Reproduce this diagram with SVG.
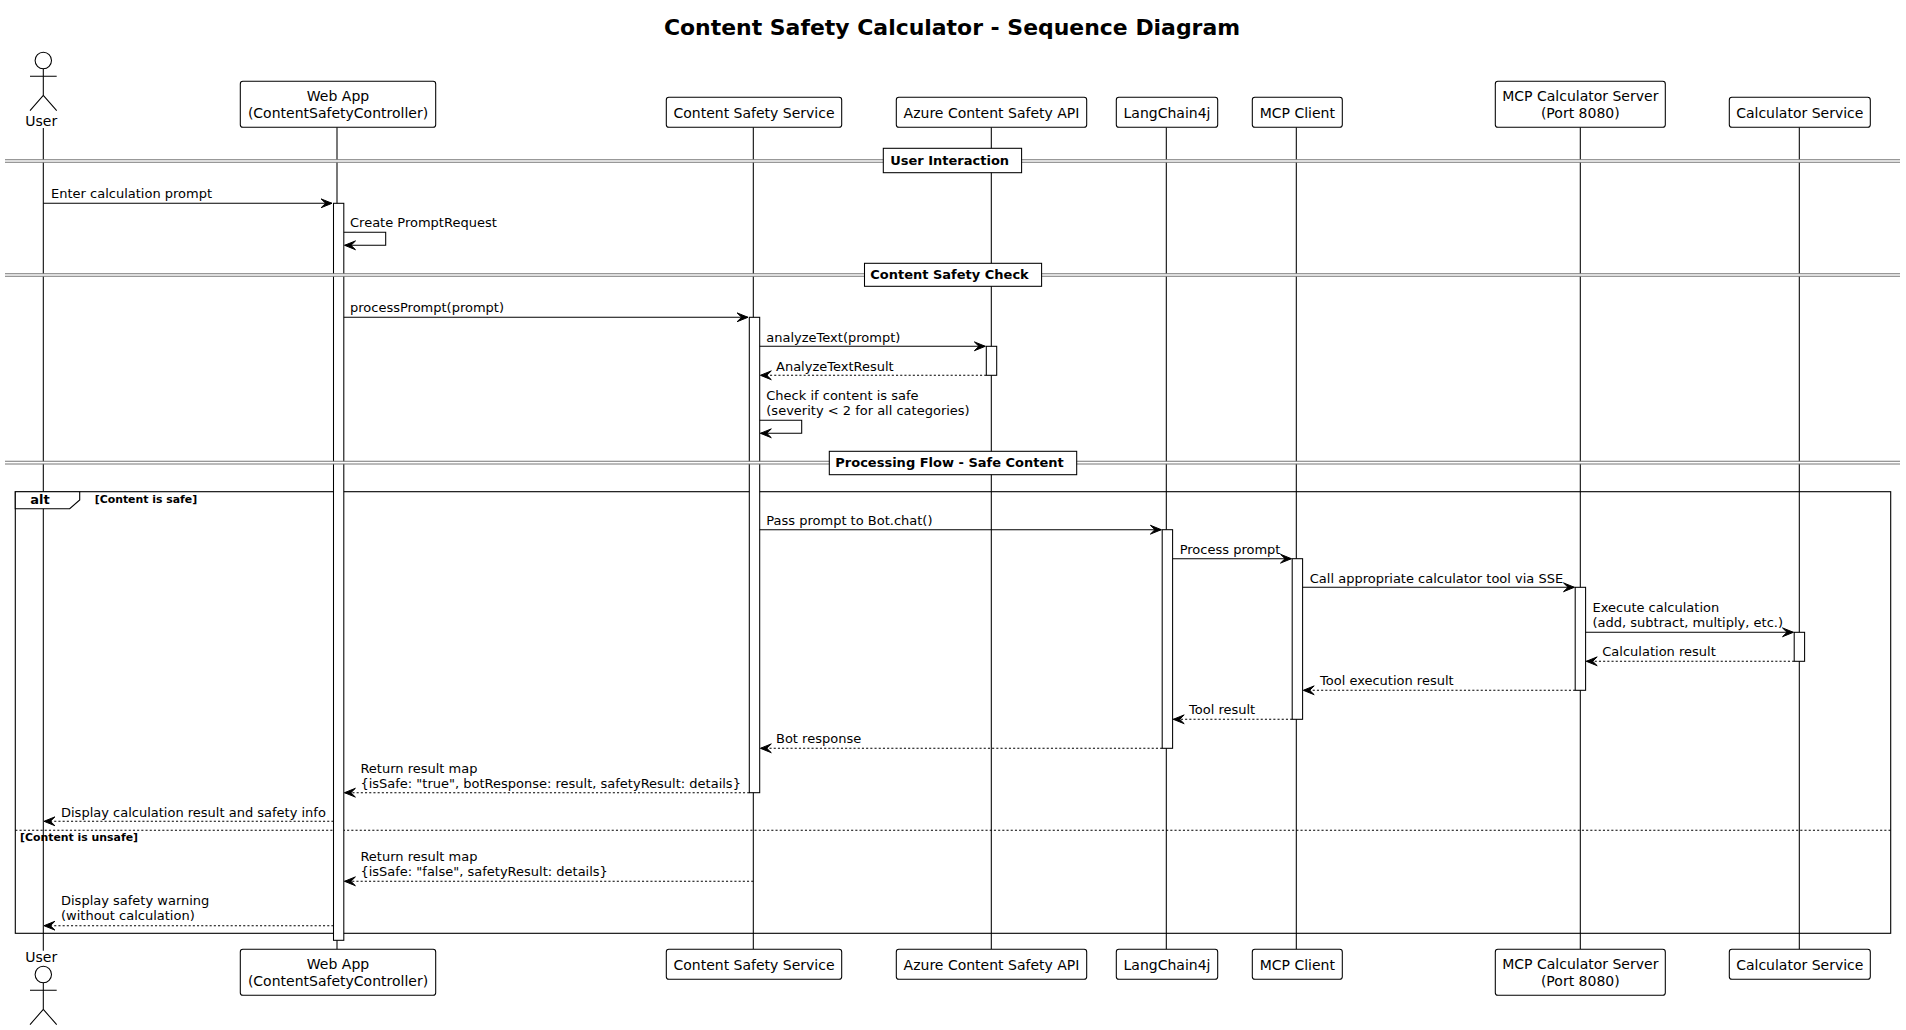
<svg xmlns="http://www.w3.org/2000/svg" width="1906" height="1030" viewBox="0 0 1906 1030">
<style>
text{font-family:"DejaVu Sans",sans-serif;fill:#000}
.p{font-size:14px;text-anchor:middle}
.m{font-size:13px}
.d{font-size:13px;font-weight:bold}
.g{font-size:10.9px;font-weight:bold}
.t{font-size:21.95px;font-weight:bold;text-anchor:middle}
.box{fill:#fff;stroke:#000;stroke-width:1.05}
.act{fill:#fff;stroke:#000;stroke-width:1.05}
.life{stroke:#000;stroke-width:1.05;fill:none}
.msg{stroke:#000;stroke-width:1.05;fill:none}
.dash{stroke:#000;stroke-width:1.05;fill:none;stroke-dasharray:2.1 2.1}
.dv{stroke:#777;stroke-width:1.05;fill:none}
.actor{stroke:#000;stroke-width:1.05;fill:none}
.frame{fill:none;stroke:#000;stroke-width:1.1}
</style>
<defs>
<marker id="arr" markerUnits="userSpaceOnUse" viewBox="-12 -6 13 12" refX="0" refY="0" markerWidth="13" markerHeight="12" orient="auto"><path d="M-10.9 -4.4L0 0L-10.9 4.4L-6.4 0Z" fill="#000" stroke="#000" stroke-width="1"/></marker>
<g id="stick"><circle cx="43.3" cy="0" r="8.2" class="actor"/><path class="actor" d="M43.3 8.2V34.8M30 15.8H56.7M43.3 34.8L30 50.2M43.3 34.8L56.7 50.2"/></g>
</defs>
<rect width="1906" height="1030" fill="#fff"/>
<text id="title" class="t" x="952" y="34.7">Content Safety Calculator - Sequence Diagram</text>
<g id="lifelines">
<path class="life" d="M43.3 128V950.7M337 127.3V949.3M753.3 127.3V949.3M991.3 127.3V949.3M1166.3 127.3V949.3M1296.3 127.3V949.3M1580.3 127.3V949.3M1799.3 127.3V949.3"/>
</g>
<g id="alt-frame">
<rect class="frame" x="15.3" y="491.7" width="1875.4" height="441.6"/>
<path d="M15.3 491.7H79.7V500L69.7 508.7H15.3Z" fill="#fff" stroke="#000" stroke-width="1.1"/>
<text class="d" x="30.3" y="504">alt</text>
<text class="g" x="94.7" y="502.7">[Content is safe]</text>
<path class="dash" d="M15.3 830.3H1890.7"/>
<text class="g" x="20" y="840.7">[Content is unsafe]</text>
</g>
<g id="activations">
<rect class="act" x="333.5" y="203.3" width="10.3" height="737"/>
<rect class="act" x="749.3" y="317.3" width="10.4" height="475.4"/>
<rect class="act" x="986.3" y="346.3" width="10.4" height="29"/>
<rect class="act" x="1162.2" y="529.7" width="10.4" height="218.6"/>
<rect class="act" x="1292.2" y="558.7" width="10.4" height="160.6"/>
<rect class="act" x="1575.2" y="587.3" width="10.4" height="103"/>
<rect class="act" x="1794.2" y="632.3" width="10.4" height="29"/>
</g>
<g id="connectors">
<path class="msg" marker-end="url(#arr)" d="M43.3 203.3H332"/>
<text class="m" x="51" y="198.3">Enter calculation prompt</text>
<path class="msg" marker-end="url(#arr)" d="M343.8 232.3H385.7V245.3H344.6"/>
<text class="m" x="350" y="227.3">Create PromptRequest</text>
<path class="msg" marker-end="url(#arr)" d="M343.8 317.3H748"/>
<text class="m" x="350" y="312.3">processPrompt(prompt)</text>
<path class="msg" marker-end="url(#arr)" d="M759.7 346.3H985.3"/>
<text class="m" x="766.3" y="342.3">analyzeText(prompt)</text>
<path class="dash" marker-end="url(#arr)" d="M986.3 375.3H760.4"/>
<text class="m" x="776" y="371">AnalyzeTextResult</text>
<path class="msg" marker-end="url(#arr)" d="M759.7 420.3H801.7V433.3H760.4"/>
<text class="m" x="766.3" y="400.3">Check if content is safe</text>
<text class="m" x="766.3" y="415.3">(severity &lt; 2 for all categories)</text>
<path class="msg" marker-end="url(#arr)" d="M759.7 529.7H1161.3"/>
<text class="m" x="766.3" y="524.7">Pass prompt to Bot.chat()</text>
<path class="msg" marker-end="url(#arr)" d="M1172.6 558.7H1291.4"/>
<text class="m" x="1179.7" y="554">Process prompt</text>
<path class="msg" marker-end="url(#arr)" d="M1302.6 587.3H1574.4"/>
<text class="m" x="1309.8" y="583">Call appropriate calculator tool via SSE</text>
<path class="msg" marker-end="url(#arr)" d="M1585.6 632.3H1793.4"/>
<text class="m" x="1592.5" y="612.3">Execute calculation</text>
<text class="m" x="1592.5" y="627.3">(add, subtract, multiply, etc.)</text>
<path class="dash" marker-end="url(#arr)" d="M1794.2 661.3H1586.3"/>
<text class="m" x="1602.3" y="656.3">Calculation result</text>
<path class="dash" marker-end="url(#arr)" d="M1575.2 690.3H1303.3"/>
<text class="m" x="1320" y="685.3">Tool execution result</text>
<path class="dash" marker-end="url(#arr)" d="M1292.2 719.3H1173.3"/>
<text class="m" x="1189" y="714.3">Tool result</text>
<path class="dash" marker-end="url(#arr)" d="M1162.2 748.3H760.4"/>
<text class="m" x="776" y="743.3">Bot response</text>
<path class="dash" marker-end="url(#arr)" d="M749.3 792.7H344.5"/>
<text class="m" x="360.4" y="773.3">Return result map</text>
<text class="m" x="360.4" y="788.3">{isSafe: "true", botResponse: result, safetyResult: details}</text>
<path class="dash" marker-end="url(#arr)" d="M333.5 821.3H44"/>
<text class="m" x="61" y="816.7">Display calculation result and safety info</text>
<path class="dash" marker-end="url(#arr)" d="M753.3 881.3H344.5"/>
<text class="m" x="360.4" y="861.3">Return result map</text>
<text class="m" x="360.4" y="876.3">{isSafe: "false", safetyResult: details}</text>
<path class="dash" marker-end="url(#arr)" d="M333.5 925.7H44"/>
<text class="m" x="61" y="905.3">Display safety warning</text>
<text class="m" x="61" y="920.3">(without calculation)</text>
</g>
<g id="dividers">
<rect x="5" y="159.7" width="1895" height="2.6" fill="#fff"/><path class="dv" d="M5 159.7H1900M5 162.3H1900"/>
<rect class="box" x="883.3" y="148.3" width="138.3" height="24.4"/>
<text class="d" x="890.2" y="165.3">User Interaction</text>
<rect x="5" y="273.7" width="1895" height="2.6" fill="#fff"/><path class="dv" d="M5 273.7H1900M5 276.3H1900"/>
<rect class="box" x="864.5" y="263.3" width="177.1" height="23"/>
<text class="d" x="870.2" y="279.3">Content Safety Check</text>
<rect x="5" y="461.3" width="1895" height="2.6" fill="#fff"/><path class="dv" d="M5 461.3H1900M5 463.9H1900"/>
<rect class="box" x="829.3" y="451.3" width="247.4" height="23.4"/>
<text class="d" x="835.3" y="467.3">Processing Flow - Safe Content</text>
</g>
<g id="user-top"><use href="#stick" y="60.5"/><text class="p" x="41.2" y="125.7">User</text></g>
<g id="user-bottom"><text class="p" x="41.2" y="962">User</text><use href="#stick" y="974.5"/></g>
<g id="webapp-top"><rect class="box" x="240.3" y="81.3" width="195.4" height="46" rx="2.6"/><text class="p" x="338" y="100.7">Web App</text><text class="p" x="338" y="117.7">(ContentSafetyController)</text></g>
<g id="webapp-bottom"><rect class="box" x="240.3" y="949.3" width="195.4" height="46" rx="2.6"/><text class="p" x="338" y="968.7">Web App</text><text class="p" x="338" y="985.7">(ContentSafetyController)</text></g>
<g id="css-top"><rect class="box" x="666.3" y="97.3" width="175.4" height="30" rx="2.6"/><text class="p" x="754" y="117.7">Content Safety Service</text></g>
<g id="css-bottom"><rect class="box" x="666.3" y="949.3" width="175.4" height="30" rx="2.6"/><text class="p" x="754" y="969.7">Content Safety Service</text></g>
<g id="azure-top"><rect class="box" x="896.3" y="97.3" width="190.4" height="30" rx="2.6"/><text class="p" x="991.5" y="117.7">Azure Content Safety API</text></g>
<g id="azure-bottom"><rect class="box" x="896.3" y="949.3" width="190.4" height="30" rx="2.6"/><text class="p" x="991.5" y="969.7">Azure Content Safety API</text></g>
<g id="lang-top"><rect class="box" x="1116.3" y="97.3" width="101.4" height="30" rx="2.6"/><text class="p" x="1167" y="117.7">LangChain4j</text></g>
<g id="lang-bottom"><rect class="box" x="1116.3" y="949.3" width="101.4" height="30" rx="2.6"/><text class="p" x="1167" y="969.7">LangChain4j</text></g>
<g id="mcpclient-top"><rect class="box" x="1252.3" y="97.3" width="90" height="30" rx="2.6"/><text class="p" x="1297.3" y="117.7">MCP Client</text></g>
<g id="mcpclient-bottom"><rect class="box" x="1252.3" y="949.3" width="90" height="30" rx="2.6"/><text class="p" x="1297.3" y="969.7">MCP Client</text></g>
<g id="mcpserver-top"><rect class="box" x="1495.3" y="81.3" width="170" height="46" rx="2.6"/><text class="p" x="1580.3" y="100.7">MCP Calculator Server</text><text class="p" x="1580.3" y="117.7">(Port 8080)</text></g>
<g id="mcpserver-bottom"><rect class="box" x="1495.3" y="949.3" width="170" height="46" rx="2.6"/><text class="p" x="1580.3" y="968.7">MCP Calculator Server</text><text class="p" x="1580.3" y="985.7">(Port 8080)</text></g>
<g id="calc-top"><rect class="box" x="1729.3" y="97.3" width="141" height="30" rx="2.6"/><text class="p" x="1799.8" y="117.7">Calculator Service</text></g>
<g id="calc-bottom"><rect class="box" x="1729.3" y="949.3" width="141" height="30" rx="2.6"/><text class="p" x="1799.8" y="969.7">Calculator Service</text></g>
</svg>
